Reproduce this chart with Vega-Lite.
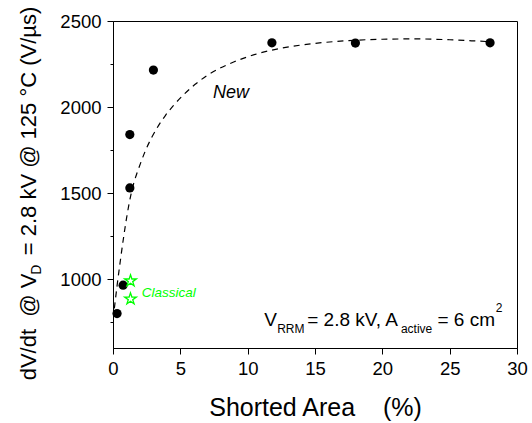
{
  "$schema": "https://vega.github.io/schema/vega-lite/v6.json",
  "width": 404,
  "height": 327,
  "autosize": {"type": "none"},
  "padding": {"left": 113, "top": 21, "right": 15, "bottom": 75},
  "background": "white",
  "config": {
    "font": "Liberation Sans",
    "view": {"stroke": "black", "strokeWidth": 1},
    "axis": {
      "grid": false,
      "domainColor": "black",
      "domainWidth": 1,
      "tickColor": "black",
      "tickWidth": 1,
      "labelFont": "Liberation Sans",
      "labelFontSize": 18.5,
      "labelColor": "black",
      "titleFont": "Liberation Sans",
      "titleFontWeight": "normal",
      "titleColor": "black"
    }
  },
  "datasets": {
    "fit": [
      {"x": 0.1, "y": 830}, {"x": 0.3, "y": 960}, {"x": 0.55, "y": 1110}, {"x": 0.8, "y": 1250},
      {"x": 1.05, "y": 1375}, {"x": 1.3, "y": 1480}, {"x": 1.55, "y": 1560}, {"x": 1.8, "y": 1620},
      {"x": 2.1, "y": 1685}, {"x": 2.4, "y": 1745}, {"x": 2.9, "y": 1827}, {"x": 3.4, "y": 1895},
      {"x": 3.9, "y": 1952}, {"x": 4.5, "y": 2010}, {"x": 5.2, "y": 2068}, {"x": 6.1, "y": 2132},
      {"x": 7.0, "y": 2184}, {"x": 8.0, "y": 2228}, {"x": 9.0, "y": 2263}, {"x": 10.0, "y": 2292},
      {"x": 11.0, "y": 2316}, {"x": 12.5, "y": 2342}, {"x": 15.0, "y": 2370}, {"x": 17.5, "y": 2386},
      {"x": 20.0, "y": 2394}, {"x": 22.5, "y": 2396}, {"x": 25.0, "y": 2391}, {"x": 27.7, "y": 2381},
      {"x": 28.0, "y": 2380}
    ],
    "newdev": [
      {"x": 0.3, "y": 800}, {"x": 0.75, "y": 965}, {"x": 1.25, "y": 1530}, {"x": 1.25, "y": 1840},
      {"x": 3.0, "y": 2215}, {"x": 11.8, "y": 2373}, {"x": 18.0, "y": 2372}, {"x": 28.0, "y": 2373}
    ],
    "classical": [
      {"x": 1.3, "y": 990}, {"x": 1.3, "y": 885}
    ],
    "mainText": [
      {"x": 11.23, "y": 727, "t": "V"},
      {"x": 14.42, "y": 727, "t": "= 2.8 kV, A"},
      {"x": 24.09, "y": 727, "t": "= 6 cm"}
    ],
    "subText": [
      {"x": 12.19, "y": 686, "t": "RRM"},
      {"x": 21.38, "y": 686, "t": "active"}
    ],
    "supText": [
      {"x": 28.42, "y": 808, "t": "2"}
    ],
    "titleSub": [
      {"x": -5.35, "y": 1055, "t": "D"}
    ]
  },
  "layer": [
    {
      "data": {"name": "fit"},
      "mark": {"type": "line", "color": "black", "strokeWidth": 1.2, "strokeDash": [6, 5], "interpolate": "monotone"},
      "encoding": {
        "x": {
          "field": "x", "type": "quantitative",
          "scale": {"domain": [0, 30], "nice": false, "zero": false},
          "axis": {
            "values": [0, 2.5, 5, 7.5, 10, 12.5, 15, 17.5, 20, 22.5, 25, 27.5, 30],
            "labelExpr": "datum.value % 5 === 0 ? datum.label : ''",
            "tickSize": {"condition": {"test": "datum.value % 5 !== 0", "value": 3}, "value": 6},
            "labelPadding": 5,
            "labelFlush": false,
            "labelOverlap": false,
            "title": "Shorted Area\u00a0\u00a0\u00a0\u00a0(%)",
            "titleFontSize": 25,
            "titleY": 67,
            "titleBaseline": "alphabetic"
          }
        },
        "y": {
          "field": "y", "type": "quantitative",
          "scale": {"domain": [600, 2500], "nice": false, "zero": false},
          "axis": {
            "values": [750, 1000, 1250, 1500, 1750, 2000, 2250, 2500],
            "format": "d",
            "labelExpr": "datum.value % 500 === 0 ? datum.label : ''",
            "tickSize": {"condition": {"test": "datum.value % 500 !== 0", "value": 3}, "value": 6},
            "labelPadding": 6,
            "labelFlush": false,
            "labelOverlap": false,
            "title": "dV/dt\u00a0\u00a0@ V\u00a0\u00a0\u00a0= 2.8 kV @ 125 °C (V/µs)",
            "titleFontSize": 22,
            "titleX": -78,
            "titleY": 172,
            "titleBaseline": "alphabetic",
            "titleAngle": 270
          }
        }
      }
    },
    {
      "data": {"name": "newdev"},
      "mark": {"type": "point", "filled": true, "color": "black", "size": 85, "opacity": 1},
      "encoding": {
        "x": {"field": "x", "type": "quantitative"},
        "y": {"field": "y", "type": "quantitative"}
      }
    },
    {
      "data": {"name": "classical"},
      "mark": {
        "type": "point",
        "shape": "M0,-1L0.2245,-0.309L0.951,-0.309L0.363,0.118L0.588,0.809L0,0.382L-0.588,0.809L-0.363,0.118L-0.951,-0.309L-0.2245,-0.309Z",
        "filled": false, "stroke": "#00ff00", "strokeWidth": 1.3, "size": 150, "opacity": 1
      },
      "encoding": {
        "x": {"field": "x", "type": "quantitative"},
        "y": {"field": "y", "type": "quantitative"}
      }
    },
    {
      "data": {"values": [{"x": 7.43, "y": 2052, "t": "New"}]},
      "mark": {"type": "text", "align": "left", "baseline": "alphabetic", "fontSize": 18, "fontStyle": "italic", "color": "black", "font": "Liberation Sans"},
      "encoding": {
        "x": {"field": "x", "type": "quantitative"},
        "y": {"field": "y", "type": "quantitative"},
        "text": {"field": "t"}
      }
    },
    {
      "data": {"values": [{"x": 2.13, "y": 895, "t": "Classical"}]},
      "mark": {"type": "text", "align": "left", "baseline": "alphabetic", "fontSize": 13.5, "fontStyle": "italic", "color": "#00ff00", "font": "Liberation Sans"},
      "encoding": {
        "x": {"field": "x", "type": "quantitative"},
        "y": {"field": "y", "type": "quantitative"},
        "text": {"field": "t"}
      }
    },
    {
      "data": {"name": "mainText"},
      "mark": {"type": "text", "align": "left", "baseline": "alphabetic", "fontSize": 19, "color": "black", "font": "Liberation Sans"},
      "encoding": {
        "x": {"field": "x", "type": "quantitative"},
        "y": {"field": "y", "type": "quantitative"},
        "text": {"field": "t"}
      }
    },
    {
      "data": {"name": "subText"},
      "mark": {"type": "text", "align": "left", "baseline": "alphabetic", "fontSize": 12, "color": "black", "font": "Liberation Sans"},
      "encoding": {
        "x": {"field": "x", "type": "quantitative"},
        "y": {"field": "y", "type": "quantitative"},
        "text": {"field": "t"}
      }
    },
    {
      "data": {"name": "supText"},
      "mark": {"type": "text", "align": "left", "baseline": "alphabetic", "fontSize": 12, "color": "black", "font": "Liberation Sans"},
      "encoding": {
        "x": {"field": "x", "type": "quantitative"},
        "y": {"field": "y", "type": "quantitative"},
        "text": {"field": "t"}
      }
    },
    {
      "data": {"name": "titleSub"},
      "mark": {"type": "text", "align": "center", "baseline": "alphabetic", "angle": 270, "fontSize": 14, "color": "black", "font": "Liberation Sans"},
      "encoding": {
        "x": {"field": "x", "type": "quantitative"},
        "y": {"field": "y", "type": "quantitative"},
        "text": {"field": "t"}
      }
    }
  ]
}
